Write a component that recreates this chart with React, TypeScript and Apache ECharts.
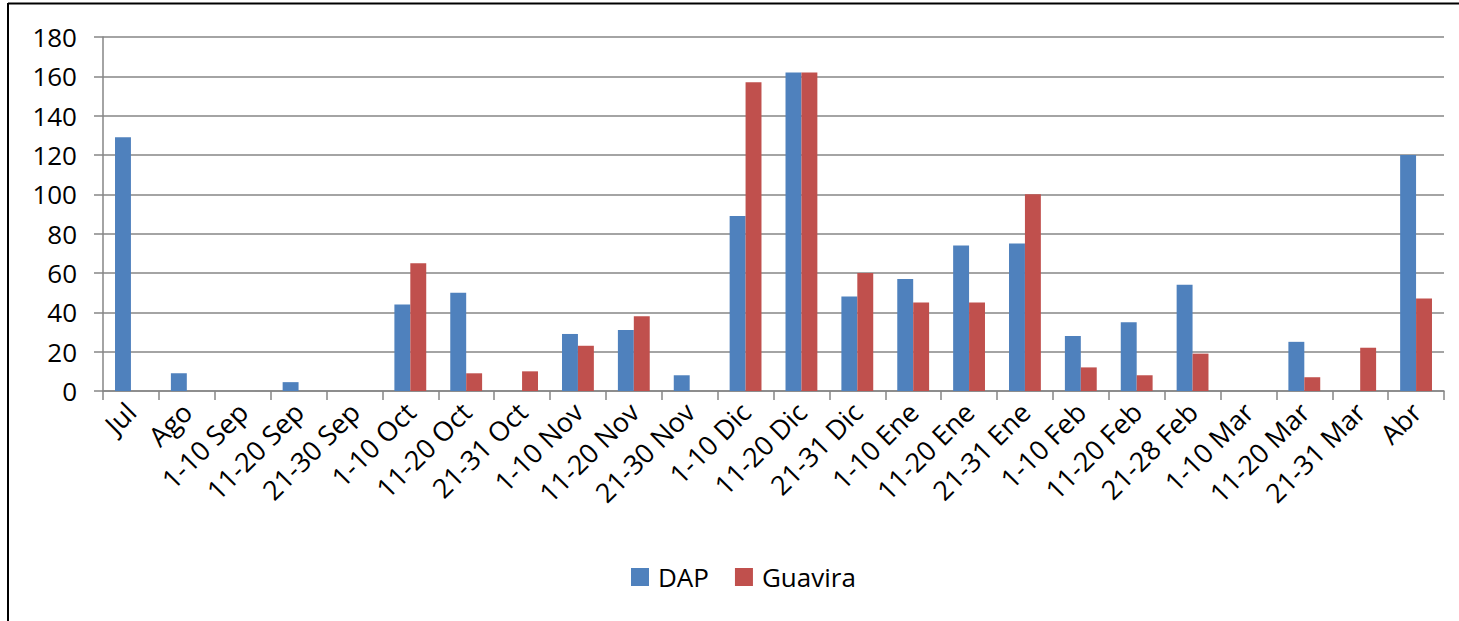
import React, { useEffect, useRef } from "react";
import * as echarts from "echarts";

const categories = [
  "Jul", "Ago", "1-10 Sep", "11-20 Sep", "21-30 Sep", "1-10 Oct", "11-20 Oct", "21-31 Oct",
  "1-10 Nov", "11-20 Nov", "21-30 Nov", "1-10 Dic", "11-20 Dic", "21-31 Dic", "1-10 Ene",
  "11-20 Ene", "21-31 Ene", "1-10 Feb", "11-20 Feb", "21-28 Feb", "1-10 Mar", "11-20 Mar",
  "21-31 Mar", "Abr",
];

const dapValues = [129, 9, 0, 4.5, 0, 44, 50, 0, 29, 31, 8, 89, 162, 48, 57, 74, 75, 28, 35, 54, 0, 25, 0, 120];
const guaviraValues = [0, 0, 0, 0, 0, 65, 9, 10, 23, 38, 0, 157, 162, 60, 45, 45, 100, 12, 8, 19, 0, 7, 22, 47];

const yTicks = { min: 0, max: 180, interval: 20 };

const FONT = "'Open Sans', 'Liberation Sans', sans-serif";
const FS = 26;

export default function App() {
  const ref = useRef<HTMLDivElement>(null);
  useEffect(() => {
    if (!ref.current) return;
    const chart = echarts.init(ref.current, undefined, { renderer: "svg" });
    chart.setOption({
      animation: false,
      backgroundColor: "#ffffff",
      textStyle: { fontFamily: FONT },
      graphic: [
        { type: "line", shape: { x1: 8, y1: 3.5, x2: 1459, y2: 3.5 }, style: { stroke: "#000", lineWidth: 2 } },
        { type: "line", shape: { x1: 8, y1: 3, x2: 8, y2: 621 }, style: { stroke: "#000", lineWidth: 2 } },
      ],
      grid: { left: 103, right: 15, top: 37, bottom: 230, containLabel: false },
      legend: {
        left: 631,
        top: 564,
        padding: 0,
        itemWidth: 18,
        itemHeight: 18,
        itemGap: 26,
        icon: "rect",
        textStyle: { fontFamily: FONT, fontSize: FS, color: "#000", padding: [0, 0, 0, 4] },
        data: ["DAP", "Guavira"],
      },
      xAxis: {
        type: "category",
        data: categories,
        axisLine: { lineStyle: { color: "#868686", width: 1.5 } },
        axisTick: { show: true, alignWithLabel: false, length: 9, lineStyle: { color: "#868686", width: 1.5 } },
        axisLabel: { rotate: 45, interval: 0, fontSize: 27, color: "#000", fontFamily: FONT, margin: 16 },
      },
      yAxis: {
        type: "value",
        min: yTicks.min,
        max: yTicks.max,
        interval: yTicks.interval,
        axisLine: { show: true, lineStyle: { color: "#868686", width: 1.5 } },
        axisTick: { show: true, length: 9, lineStyle: { color: "#868686", width: 1.5 } },
        axisLabel: { fontSize: FS, color: "#000", fontFamily: FONT, margin: 26 },
        splitLine: { lineStyle: { color: "#868686", width: 1.5 } },
      },
      series: [
        {
          name: "DAP",
          type: "bar",
          data: dapValues,
          itemStyle: { color: "#4F81BD" },
          barGap: "0%",
          barCategoryGap: "43%",
        },
        {
          name: "Guavira",
          type: "bar",
          data: guaviraValues,
          itemStyle: { color: "#C0504D" },
          barGap: "0%",
          barCategoryGap: "43%",
        },
      ],
    });
    return () => chart.dispose();
  }, []);
  return (
    <div
      ref={ref}
      style={{ position: "fixed", left: 0, top: 0, width: 1459, height: 621, background: "#fff" }}
    />
  );
}
